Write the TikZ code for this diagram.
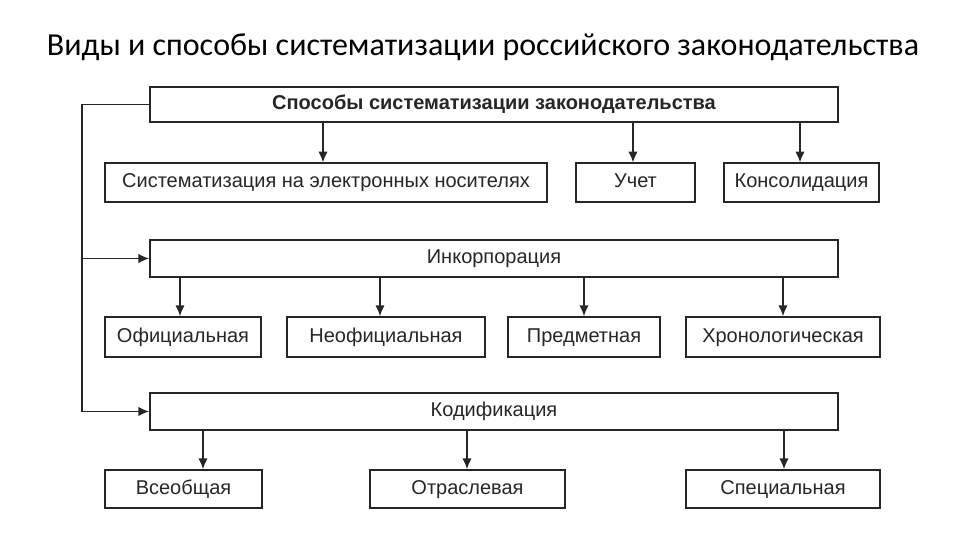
\documentclass[tikz,border=0pt]{standalone}
\usepackage{fontspec}
\setmainfont{Liberation Sans}
\newfontfamily\titlefont{Carlito}
\usetikzlibrary{arrows.meta}
\begin{document}
\begin{tikzpicture}[x=0.75pt,y=-0.75pt,
  box/.style={draw=black!85,line width=1.3pt,fill=white,inner sep=0pt,text height=0.95em,text depth=0.2em,font=\fontsize{15}{17}\selectfont,text=black!85},
  arr/.style={line width=1pt,draw=black!85,-{Latex[length=8pt,width=7pt]}}]
\useasboundingbox (0,0) rectangle (960,540);
\node[font=\titlefont\fontsize{24}{28}\selectfont] (title) at (483,47) {Виды и способы систематизации российского законодательства};
% top
\node[box,minimum width=516pt,minimum height=26pt,font=\bfseries\fontsize{15}{17}\selectfont] (top) at (494,104.5) {Способы систематизации законодательства};
\node[box,minimum width=331.5pt,minimum height=29pt] (a1) at (326,182.5) {Систематизация на электронных носителях};
\node[box,minimum width=89pt,minimum height=29pt] (a2) at (635.5,182.5) {Учет};
\node[box,minimum width=116pt,minimum height=29pt] (a3) at (801.5,182.5) {Консолидация};
\node[box,minimum width=516pt,minimum height=28pt] (inc) at (494,258.5) {Инкорпорация};
\node[box,minimum width=117pt,minimum height=30pt] (b1) at (183,337) {Официальная};
\node[box,minimum width=148.5pt,minimum height=30pt] (b2) at (386,337) {Неофициальная};
\node[box,minimum width=114pt,minimum height=30pt] (b3) at (584,337) {Предметная};
\node[box,minimum width=145.5pt,minimum height=30pt] (b4) at (783,337) {Хронологическая};
\node[box,minimum width=516pt,minimum height=28pt] (cod) at (494,411.5) {Кодификация};
\node[box,minimum width=117.75pt,minimum height=28.5pt] (c1) at (183.5,489) {Всеобщая};
\node[box,minimum width=146.25pt,minimum height=28.5pt] (c2) at (467.5,489) {Отраслевая};
\node[box,minimum width=145.5pt,minimum height=28.5pt] (c3) at (783,489) {Специальная};
% arrow coordinates
\foreach \n/\x in {p1/323,p2/633,p3/800,q1/180,q2/380,q3/584,q4/783,s1/203,s2/467,s3/784}
  \coordinate (\n) at (\x,0);
\draw[arr] (p1 |- top.south) -- (p1 |- a1.north);
\draw[arr] (p2 |- top.south) -- (p2 |- a2.north);
\draw[arr] (p3 |- top.south) -- (p3 |- a3.north);
\draw[arr] (q1 |- inc.south) -- (q1 |- b1.north);
\draw[arr] (q2 |- inc.south) -- (q2 |- b2.north);
\draw[arr] (q3 |- inc.south) -- (q3 |- b3.north);
\draw[arr] (q4 |- inc.south) -- (q4 |- b4.north);
\draw[arr] (s1 |- cod.south) -- (s1 |- c1.north);
\draw[arr] (s2 |- cod.south) -- (s2 |- c2.north);
\draw[arr] (s3 |- cod.south) -- (s3 |- c3.north);
% left bus
\coordinate (L) at (82,0);
\draw[line width=1pt,draw=black!85] (top.west) -- (L |- top.west) -- (L |- cod.west);
\draw[arr] (L |- inc.west) -- (inc.west);
\draw[arr] (L |- cod.west) -- (cod.west);
\end{tikzpicture}
\end{document}
